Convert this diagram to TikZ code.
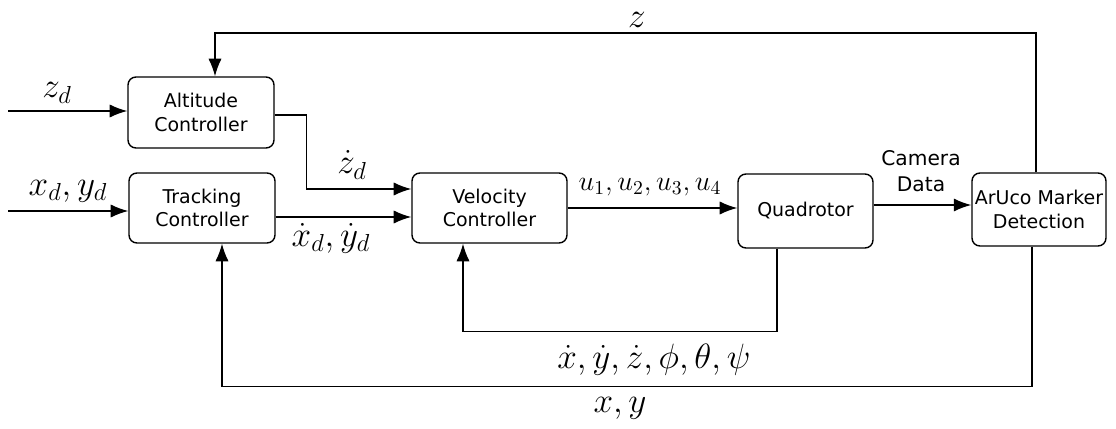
\RequirePackage{fix-cm}
\documentclass[tikz,border=0pt]{standalone}
\usepackage{fontspec}
\setsansfont{DejaVu Sans}
\usetikzlibrary{arrows.meta, calc}
\tikzset{ctrlbox/.style={draw, rounded corners=4.5pt, line width=0.8pt, align=center, inner sep=0pt, font=\sffamily\fontsize{10.8}{13.5}\selectfont}}
\tikzset{sig/.style={line width=0.8pt, -{Latex[length=10pt,width=7.5pt]}}}
\tikzset{siglabel/.style={inner sep=0.5pt, font=\fontsize{20}{24}\selectfont}}

\begin{document}
\begin{tikzpicture}[x=0.02cm, y=-0.02cm]
\useasboundingbox (0,0) rectangle (1116,429);
\node[ctrlbox, minimum width=2.92cm, minimum height=1.42cm] (alt) at (201,112.5) {Altitude\\Controller};
\node[ctrlbox, minimum width=2.92cm, minimum height=1.40cm] (trk) at (202,208) {Tracking\\Controller};
\node[ctrlbox, minimum width=3.10cm, minimum height=1.40cm] (vel) at (489.5,208) {Velocity\\Controller};
\node[ctrlbox, minimum width=2.70cm, minimum height=1.48cm] (quad) at (805.5,211) {Quadrotor};
\node[ctrlbox, minimum width=2.68cm, minimum height=1.46cm] (aru) at (1039,209.5) {ArUco Marker\\Detection};
% reference inputs
\coordinate (zin) at (8,111);
\coordinate (xyin) at (8,211);
\draw[sig] (zin) -- (zin -| alt.west);
\node[siglabel] (zdlab) at (57,93) {$z_d$};
\draw[sig] (xyin) -- (xyin -| trk.west);
\node[siglabel] (xydlab) at (68,191) {$x_d, y_d$};
% into the velocity controller
\coordinate (vin1) at ($(vel.west)+(0,-19)$);
\coordinate (vin2) at ($(vel.west)+(0,9)$);
\draw[sig] ($(alt.east)+(0,2.5)$) -- ++(32,0) |- (vin1);
\draw[sig] (vin2 -| trk.east) -- (vin2);
\node[siglabel] (zdotlab) at (352,165) {$\dot z_d$};
\node[siglabel] (xydotlab) at (331,238) {$\dot x_d, \dot y_d$};
% forward path
\draw[sig] (vel.east) -- (vel.east -| quad.west);
\node[inner sep=0.5pt, font=\fontsize{16}{19}\selectfont] (ulab) at (650,187) {$u_1, u_2, u_3, u_4$};
\coordinate (cam) at ($(aru.west)+(0,-4.5)$);
\draw[sig] (cam -| quad.east) -- (cam);
\node[align=center, font=\sffamily\fontsize{11.5}{15}\selectfont] (camlab) at (921,171) {Camera\\Data};
% feedback loops
\coordinate (ztop) at (637,33);
\draw[sig] ($(aru.north)+(-3,0)$) |- (ztop) -| ($(alt.north)+(14,0)$);
\node[siglabel] (zlab) at (637,20) {$z$};
\draw[sig] ($(quad.south)+(-28.5,0)$) -- ++(0,83) -| ($(vel.south)+(-26.5,0)$);
\node[siglabel] (statelab) at (654,360) {$\dot x, \dot y, \dot z, \phi, \theta, \psi$};
\draw[sig] ($(aru.south)+(-7,0)$) -- ++(0,140) -| ($(trk.south)+(20,0)$);
\node[siglabel] (xylab) at (620,408) {$x, y$};
\end{tikzpicture}
\end{document}
